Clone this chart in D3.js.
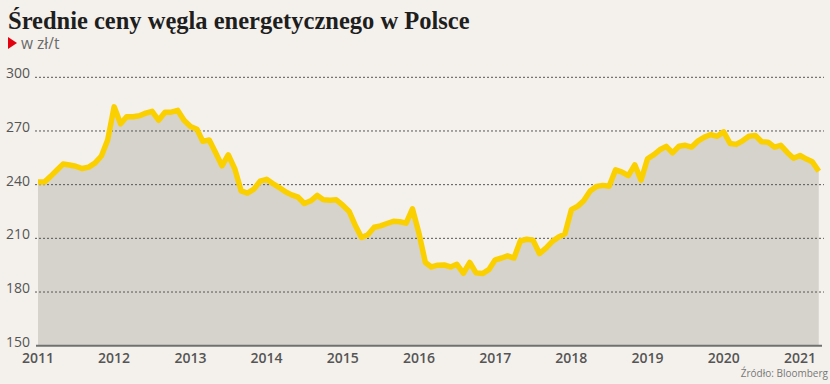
<!DOCTYPE html>
<html>
<head>
<meta charset="utf-8">
<script src="https://cdn.jsdelivr.net/npm/d3@7"></script>
<style>
  body { margin: 0; background: #f4f1ec; }
  svg { display: block; }
</style>
</head>
<body>
<svg id="chart" width="830" height="384"></svg>
<script>
// dane miesięczne, od stycznia 2011
var startMonth = new Date(2011, 0, 1);
var prices = [
  241.5, 241.5, 244.5, 248, 251.5, 251, 250.3, 249, 249.8, 252, 256, 265,
  283.5, 274, 278, 278, 278.5, 280, 281, 276, 280.5, 280.5, 281.5, 276,
  272.5, 271, 264.2, 265, 258, 250.5, 256.7, 249, 236.5, 235.3, 237.5, 242,
  243, 240.5, 238.5, 236, 234.3, 233, 229.5, 231, 234, 231.5, 231.3, 231.5,
  228.5, 225, 217.5, 210.5, 212, 216.2, 217, 218.3, 219.5, 219.3, 218.5, 226.5,
  213, 196.5, 194, 195, 195.1, 194, 195.5, 190.5, 196.5, 190.7, 190.3, 192.5,
  198, 199, 200.2, 199, 208.5, 209.5, 209, 201.5, 204.5, 208.2, 210.8, 212.5,
  226, 228, 231, 236.5, 239, 239.6, 239.1, 248.3, 247, 245, 251.1, 242.5,
  254.5, 256.8, 259.5, 261.4, 257.8, 261.5, 262, 261, 264.5, 266.6, 268, 267,
  269.5, 263, 262.5, 264.5, 267, 267.5, 264, 263.7, 261, 262, 258, 254.8,
  256.3, 254.3, 252.8, 247.5
];
var yTicks = [150, 180, 210, 240, 270, 300];
var xYears = [2011, 2012, 2013, 2014, 2015, 2016, 2017, 2018, 2019, 2020, 2021];

var title = "Średnie ceny węgla energetycznego w Polsce";
var unit = "w zł/t";
var source = "Źródło: Bloomberg";

var data = prices.map(function(v, i) {
  return { date: d3.timeMonth.offset(startMonth, i), value: v };
});

var svg = d3.select('#chart');

var x = d3.scaleTime()
  .domain([new Date(2011, 0, 1), new Date(2021, 0, 1)])
  .range([38, 800]);
var y = d3.scaleLinear()
  .domain([150, 300])
  .range([345.7, 77.3]);

// tytuł
svg.append('text')
  .attr('x', 8).attr('y', 29)
  .style('font-family', '"Liberation Serif", serif')
  .style('font-weight', 'bold')
  .style('font-size', '24.5px')
  .style('fill', '#1e1e1e')
  .text(title);

svg.append('path')
  .attr('d', 'M8,37 L17,43 L8,49 Z')
  .style('fill', '#e3000f');
svg.append('text')
  .attr('x', 21).attr('y', 49)
  .style('font-family', '"Open Sans", sans-serif')
  .style('font-size', '15.5px')
  .style('fill', '#6a6a6a')
  .text(unit);

// obszar pod linią
var area = d3.area()
  .x(function(d) { return x(d.date); })
  .y0(y(150))
  .y1(function(d) { return y(d.value); });
svg.append('path')
  .datum(data)
  .attr('d', area)
  .style('fill', '#d6d3cd');

// siatka
svg.selectAll('line.grid')
  .data(yTicks.filter(function(t) { return t > 150; }))
  .enter().append('line')
    .classed('grid', true)
    .attr('x1', 35).attr('x2', 824)
    .attr('y1', function(d) { return y(d); })
    .attr('y2', function(d) { return y(d); })
    .style('stroke', '#555')
    .style('stroke-width', 1)
    .style('stroke-dasharray', '2,2');

svg.append('line')
  .attr('x1', 36).attr('x2', 822)
  .attr('y1', y(150)).attr('y2', y(150))
  .style('stroke', '#707070')
  .style('stroke-width', 2);

// linia
var line = d3.line()
  .x(function(d) { return x(d.date); })
  .y(function(d) { return y(d.value); });
svg.append('path')
  .datum(data)
  .attr('d', line)
  .style('fill', 'none')
  .style('stroke', '#fbd000')
  .style('stroke-width', 5.5)
  .style('stroke-linejoin', 'round');

// etykiety osi Y
svg.selectAll('text.ytick')
  .data(yTicks)
  .enter().append('text')
    .classed('ytick', true)
    .attr('x', 6)
    .attr('y', function(d) { return y(d) + 1; })
    .style('font-family', '"Open Sans", sans-serif')
    .style('font-size', '14px')
    .style('fill', '#555')
    .text(function(d) { return d; });

// etykiety osi X
svg.selectAll('text.xtick')
  .data(xYears)
  .enter().append('text')
    .classed('xtick', true)
    .attr('x', function(d) { return x(new Date(d, 0, 1)); })
    .attr('y', 363)
    .attr('text-anchor', 'middle')
    .style('font-family', '"Open Sans", sans-serif')
    .style('font-size', '14px')
    .style('font-weight', '600')
    .style('fill', '#555')
    .text(function(d) { return d; });

svg.append('text')
  .attr('x', 828).attr('y', 377)
  .attr('text-anchor', 'end')
  .style('font-family', '"Open Sans", sans-serif')
  .style('font-size', '10px')
  .style('fill', '#777')
  .text(source);
</script>
</body>
</html>
